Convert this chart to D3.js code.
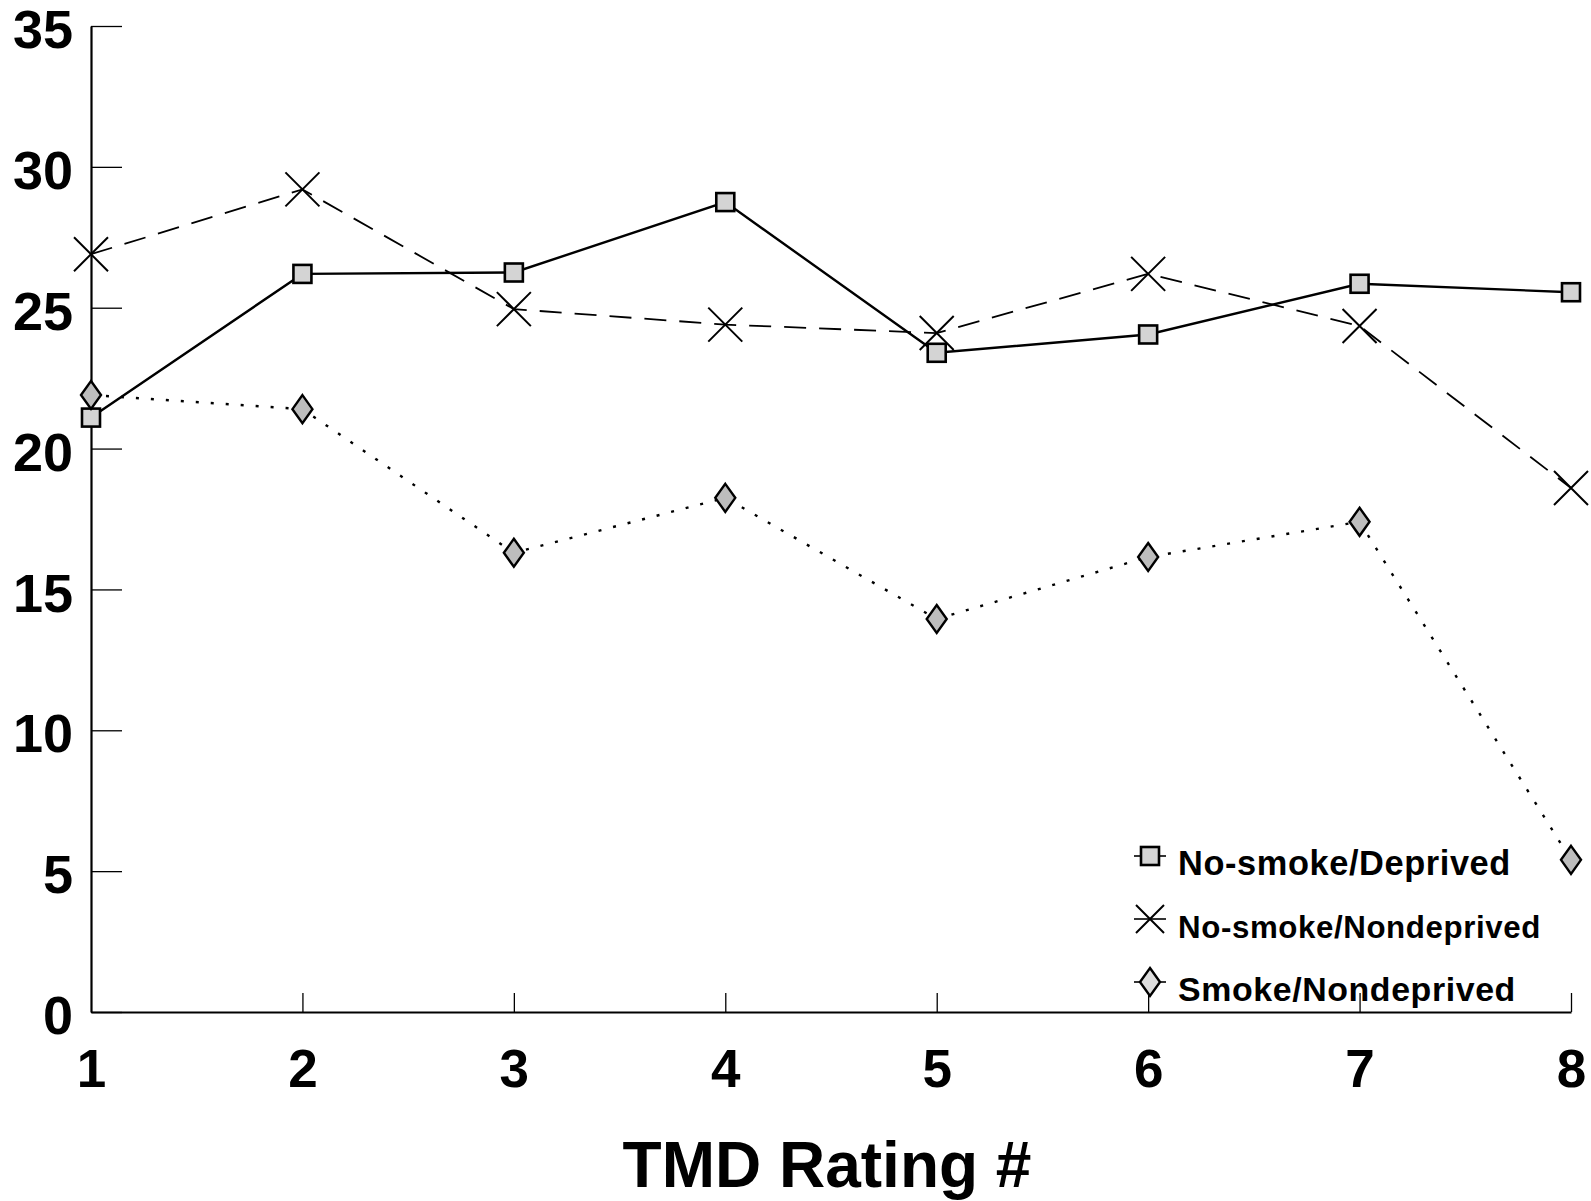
<!DOCTYPE html>
<html>
<head>
<meta charset="utf-8">
<script src="https://cdn.jsdelivr.net/npm/d3@7"></script>
<style>
  html, body { margin: 0; padding: 0; background: #fff; }
  svg { display: block; }
  text { font-family: "Liberation Sans", Arial, Helvetica, sans-serif; font-weight: bold; fill: #000; }
</style>
</head>
<body>
<svg id="chart" width="1591" height="1201"></svg>
<script>
// ---- data ----
const ratings = [1, 2, 3, 4, 5, 6, 7, 8];
const noSmokeDeprived = [21.1, 26.2, 26.25, 28.75, 23.4, 24.05, 25.85, 25.55];
const noSmokeNondeprived = [26.9, 29.2, 24.95, 24.4, 24.1, 26.2, 24.35, 18.6];
const smokeNondeprived = [21.9, 21.4, 16.3, 18.25, 13.95, 16.15, 17.4, 5.4];
const yTicks = [0, 5, 10, 15, 20, 25, 30, 35];
const seriesNames = ["No-smoke/Deprived", "No-smoke/Nondeprived", "Smoke/Nondeprived"];
const xTitle = "TMD Rating #";

const svg = d3.select("#chart");
const x = d3.scaleLinear().domain([1, 8]).range([91, 1571]);
const y = d3.scaleLinear().domain([0, 35]).range([1012, 26]);

// axes
const yAxis = d3.axisLeft(y).tickValues(yTicks).tickSize(-31).tickSizeOuter(0).tickPadding(18).tickFormat(d3.format("d"));
const gy = svg.append("g").attr("transform", `translate(${x(1)},0)`).call(yAxis);
gy.select(".domain").attr("stroke", "#000").attr("stroke-width", 2.2);
gy.selectAll(".tick line").attr("stroke", "#000").attr("stroke-width", 1.3);
gy.selectAll(".tick text").attr("font-size", 54).attr("dy", "0.40em")
  .style("font-family", '"Liberation Sans", Arial, sans-serif').style("font-weight", "bold");

const xAxis = d3.axisBottom(x).tickValues(ratings).tickSize(-19).tickSizeOuter(0).tickPadding(37).tickFormat(d3.format("d"));
const gx = svg.append("g").attr("transform", `translate(0,${y(0)})`).call(xAxis);
gx.select(".domain").attr("stroke", "#000").attr("stroke-width", 2.2);
gx.selectAll(".tick line").attr("stroke", "#000").attr("stroke-width", 1.3);
gx.selectAll(".tick text").attr("font-size", 53)
  .style("font-family", '"Liberation Sans", Arial, sans-serif').style("font-weight", "bold");
gx.selectAll(".tick").filter(d => d === 1).select("line").remove();

// x title
svg.append("text").attr("x", 827).attr("y", 1187).attr("text-anchor", "middle")
  .attr("font-size", 64).text(xTitle);

// series definitions
const series = [
  { name: seriesNames[0], values: noSmokeDeprived, dash: null, width: 2.4, marker: "square" },
  { name: seriesNames[1], values: noSmokeNondeprived, dash: "22,13", width: 1.8, marker: "x" },
  { name: seriesNames[2], values: smokeNondeprived, dash: "3,12", width: 2.4, marker: "diamond" }
];

const line = d3.line().x((d, i) => x(ratings[i])).y(d => y(d));

series.forEach(s => {
  svg.append("path").datum(s.values)
    .attr("d", line)
    .attr("fill", "none").attr("stroke", "#000")
    .attr("stroke-width", s.width)
    .attr("stroke-dasharray", s.dash);
});

function drawMarker(g, type, cx, cy, small) {
  if (type === "square") {
    g.append("rect").attr("x", cx - 9).attr("y", cy - 9).attr("width", 18).attr("height", 18)
      .attr("fill", "#d4d4d4").attr("stroke", "#000").attr("stroke-width", 2.6);
  } else if (type === "x") {
    const r = small ? 14 : 17;
    g.append("path").attr("d", `M${cx-r},${cy-r}L${cx+r},${cy+r}M${cx-r},${cy+r}L${cx+r},${cy-r}`)
      .attr("stroke", "#000").attr("stroke-width", 2).attr("fill", "none");
  } else {
    g.append("path").attr("d", `M${cx},${cy-14}L${cx+10},${cy}L${cx},${cy+14}L${cx-10},${cy}Z`)
      .attr("fill", small ? "#dedede" : "#bdbdbd").attr("stroke", "#000").attr("stroke-width", 2.4);
  }
}

series.forEach(s => {
  const g = svg.append("g");
  s.values.forEach((v, i) => drawMarker(g, s.marker, x(ratings[i]), y(v), false));
});

// legend
const legendX = 1150, legendY0 = 856, legendStep = 63;
const legendWidths = [333, 362, 338];
series.forEach((s, i) => {
  const cy = legendY0 + i * legendStep;
  const g = svg.append("g");
  g.append("line").attr("x1", legendX - 16).attr("x2", legendX + 16).attr("y1", cy).attr("y2", cy)
    .attr("stroke", "#000").attr("stroke-width", 1.6);
  drawMarker(g, s.marker, legendX, cy, true);
  const t = g.append("text").attr("x", legendX + 28).attr("y", cy + 19).attr("font-size", 34)
    .attr("letter-spacing", 0.6).text(s.name);
  const w = t.node().getComputedTextLength();
  t.attr("font-size", (34 * legendWidths[i] / w).toFixed(2));
});
</script>
</body>
</html>
